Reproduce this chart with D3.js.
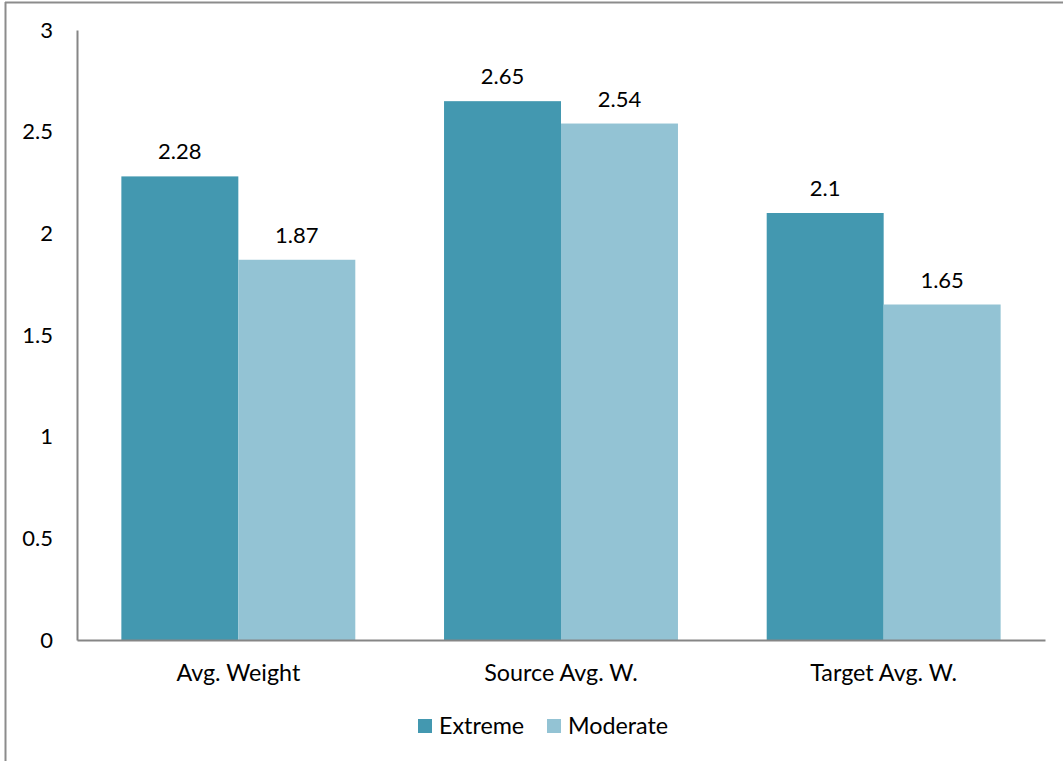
<!DOCTYPE html>
<html>
<head>
<meta charset="utf-8">
<script src="https://cdn.jsdelivr.net/npm/d3@7"></script>
<style>
  html, body { margin: 0; padding: 0; background: #fff; }
  svg { display: block; font-family: Lato, "Open Sans", sans-serif; }
</style>
</head>
<body>
<svg id="chart" width="1063" height="761"></svg>
<script>
// Chart data
const categories = ["Avg. Weight", "Source Avg. W.", "Target Avg. W."];
const seriesNames = ["Extreme", "Moderate"];
const extremeValues = [2.28, 2.65, 2.1];
const moderateValues = [1.87, 2.54, 1.65];
const yTicks = [0, 0.5, 1, 1.5, 2, 2.5, 3];
const seriesColors = ["#4398b0", "#93c3d4"];

const FONT = "Lato, \"Open Sans\", sans-serif";
const FS = 22;       // value and tick labels
const FS_CAT = 23.3; // category and legend labels

const svg = d3.select("#chart");
const W = 1063, H = 761;

// Outer frame (top and left edges visible)
svg.append("line").attr("x1", 5.5).attr("x2", 5.5).attr("y1", 2).attr("y2", H)
  .attr("stroke", "#8c8c8c").attr("stroke-width", 2);
svg.append("line").attr("x1", 5).attr("x2", W).attr("y1", 2.5).attr("y2", 2.5)
  .attr("stroke", "#8c8c8c").attr("stroke-width", 2);

const plot = { left: 77, right: 1045, top: 30, bottom: 640 };

const x0 = d3.scaleBand().domain(categories)
  .range([plot.left, plot.right]).paddingInner(0.275).paddingOuter(0.1375);
const x1 = d3.scaleBand().domain(seriesNames).range([0, x0.bandwidth()]);
const y = d3.scaleLinear().domain([0, 3]).range([plot.bottom, plot.top]);

const rows = categories.map((c, i) => ({
  category: c,
  values: [extremeValues[i], moderateValues[i]]
}));

// Bars
const groups = svg.append("g").selectAll("g").data(rows).join("g")
  .attr("transform", d => `translate(${x0(d.category)},0)`);

groups.selectAll("rect")
  .data(d => d.values.map((v, j) => ({ name: seriesNames[j], value: v, j })))
  .join("rect")
  .attr("x", d => x1(d.name))
  .attr("y", d => y(d.value))
  .attr("width", x1.bandwidth())
  .attr("height", d => y(0) - y(d.value))
  .attr("fill", d => seriesColors[d.j]);

// Value labels
groups.selectAll("text")
  .data(d => d.values.map((v, j) => ({ name: seriesNames[j], value: v })))
  .join("text")
  .attr("x", d => x1(d.name) + x1.bandwidth() / 2)
  .attr("y", d => y(d.value) - 17)
  .attr("text-anchor", "middle")
  .attr("font-size", FS)
  .attr("fill", "#000")
  .text(d => String(d.value));

// Y axis
const yAxis = svg.append("g")
  .attr("transform", `translate(${plot.left},0)`)
  .call(d3.axisLeft(y).tickValues(yTicks).tickSize(0).tickPadding(24)
    .tickFormat(d => String(d)));
yAxis.select(".domain").attr("stroke", "#868686").attr("stroke-width", 2);
yAxis.selectAll("text").attr("font-size", FS).attr("fill", "#000")
  .attr("font-family", FONT);

// X axis
const xAxis = svg.append("g")
  .attr("transform", `translate(0,${plot.bottom})`)
  .call(d3.axisBottom(x0).tickSize(0).tickPadding(24));
xAxis.select(".domain").attr("stroke", "#868686").attr("stroke-width", 2);
xAxis.selectAll("text").attr("font-size", FS_CAT).attr("fill", "#000")
  .attr("font-family", FONT);

// Legend
const legend = svg.append("g").attr("transform", "translate(418,719)");
const legendOffsets = [0, 129];
seriesNames.forEach((name, i) => {
  const g = legend.append("g").attr("transform", `translate(${legendOffsets[i]},0)`);
  g.append("rect").attr("width", 14).attr("height", 14).attr("fill", seriesColors[i]);
  g.append("text").attr("x", 21).attr("y", 15)
    .attr("font-size", FS_CAT).attr("fill", "#000").text(name);
});
</script>
</body>
</html>
